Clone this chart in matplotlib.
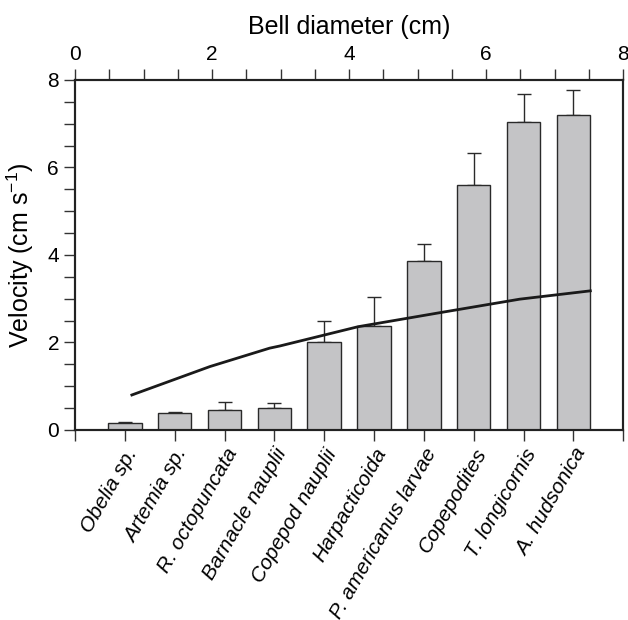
import matplotlib.pyplot as plt
import numpy as np

plt.rcParams["font.family"] = ["Liberation Sans", "DejaVu Sans"]
plt.rcParams["mathtext.fontset"] = "custom"
plt.rcParams["mathtext.rm"] = "Liberation Sans"

# Prey taxa, mean escape velocity and upper error
taxa = ["Obelia sp.", "Artemia sp.", "R. octopuncata", "Barnacle nauplii",
        "Copepod nauplii", "Harpacticoida", "P. americanus larvae",
        "Copepodites", "T. longicornis", "A. hudsonica"]
velocity = [0.15, 0.38, 0.46, 0.51, 2.02, 2.38, 3.86, 5.59, 7.03, 7.19]
err_top = [0.19, 0.42, 0.65, 0.61, 2.49, 3.04, 4.26, 6.32, 7.69, 7.76]

# Feeding current velocity vs bell diameter (top axis)
bell_diam = [0.83, 1.97, 2.84, 2.99, 4.13, 5.32, 6.49, 7.52]
bell_vel = [0.80, 1.45, 1.87, 1.92, 2.36, 2.68, 2.99, 3.18]

fig = plt.figure(figsize=(6.28, 6.2), dpi=100)
ax = fig.add_axes([0.1194, 0.3065, 0.8730, 0.5645])

pos = np.arange(1, len(taxa) + 1)
yerr = [np.zeros(len(taxa)), np.array(err_top) - np.array(velocity)]
ax.bar(pos, velocity, width=0.67, color="#c4c4c6", edgecolor="#2a2a2a",
       linewidth=1.0, zorder=2)
ax.errorbar(pos, velocity, yerr=yerr, fmt="none", ecolor="#2a2a2a",
            elinewidth=1.0, capsize=5, capthick=1.0, zorder=1)

ax.set_xlim(0, 11)
ax.set_ylim(0, 8)
ax.set_xticks(np.arange(0, 12))
ax.set_xticklabels([""] + taxa + [""], rotation=60, ha="right",
                   rotation_mode="anchor", fontsize=15, style="italic")
ax.set_yticks([0, 2, 4, 6, 8])
ax.set_yticks(np.arange(0, 8.01, 0.5), minor=True)
ax.tick_params(axis="y", which="both", length=8, width=1, labelsize=15,
               direction="out", color="#333333")
ax.tick_params(axis="x", which="both", length=8, width=1, direction="out",
               color="#333333", pad=3)
ax.set_ylabel("Velocity (cm s$^{-1}$)", fontsize=18, labelpad=8)
for s in ax.spines.values():
    s.set_linewidth(1.5)
    s.set_color("#222222")

ax2 = ax.twiny()
ax2.set_xlim(0, 8)
ax2.plot(bell_diam, bell_vel, color="#1a1a1a", linewidth=2.0)
ax2.set_xticks([0, 2, 4, 6, 8])
ax2.set_xticks(np.arange(0, 8.01, 0.5), minor=True)
ax2.tick_params(axis="x", which="both", length=8, width=1, labelsize=15,
                direction="out", color="#333333")
ax2.set_xlabel("Bell diameter (cm)", fontsize=18, labelpad=8)
for s in ax2.spines.values():
    s.set_linewidth(1.5)
    s.set_color("#222222")

fig.savefig("out.png", dpi=100)
